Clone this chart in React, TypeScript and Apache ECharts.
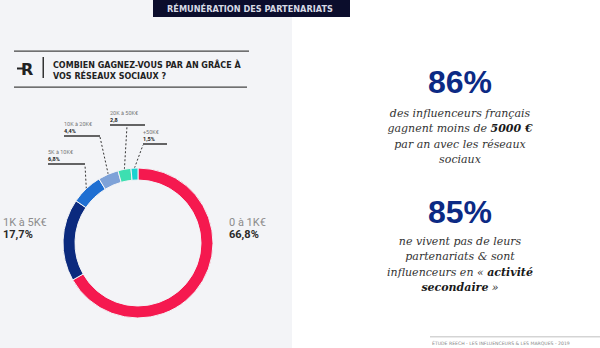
import React, { useEffect, useRef } from "react";
import * as echarts from "echarts";

const categories = ["0 à 1K€", "1K à 5K€", "5K à 10K€", "10K à 20K€", "20K à 50K€", "+50K€"];
const values = [66.8, 17.7, 6.8, 4.4, 2.8, 1.5];
const valueLabels = ["66,8%", "17,7%", "6,8%", "4,4%", "2,8", "1,5%"];
const colors = ["#f5194f", "#0b2a7e", "#1f6fd2", "#7ea2d8", "#3ddfb1", "#1ad3d1"];

// label layout (pixel positions of the callout labels)
const labelPos: { x: number; y: number; anchor?: number[] }[] = [
  { x: 229, y: 216 },
  { x: 3, y: 216 },
  { x: 48, y: 149, anchor: [85, 165] },
  { x: 64, y: 121, anchor: [100, 137] },
  { x: 110, y: 110, anchor: [127, 126] },
  { x: 143, y: 129, anchor: [143, 145] },
];
const underlineWidths = [0, 0, 37, 36, 35, 24];

export default function App() {
  const ref = useRef<HTMLDivElement>(null);
  useEffect(() => {
    if (!ref.current) return;
    const chart = echarts.init(ref.current, undefined, { renderer: "svg" });
    const rich: any = {
      n: { fontSize: 11, color: "#8c8c8c", fontFamily: "Roboto", lineHeight: 12 },
      v: { fontSize: 11, color: "#2a2a2a", fontFamily: "Roboto", fontWeight: "bold", lineHeight: 12 },
      sn: { fontSize: 5.5, color: "#777", fontFamily: "Roboto", lineHeight: 6.5 },
      sv: { fontSize: 5.5, color: "#222", fontFamily: "Roboto", fontWeight: "bold", lineHeight: 6.5 },
    };
    underlineWidths.forEach((w, i) => {
      if (w) rich["u" + i] = { width: w, height: 1.5, backgroundColor: "#333", lineHeight: 4, fontSize: 4 };
    });
    const serif = "'DejaVu Serif', 'Liberation Serif', serif";
    const paraRich = {
      i: { fontFamily: serif, fontStyle: "italic", fontWeight: "normal", fontSize: 11, color: "#333", lineHeight: 15.4 },
      b: { fontFamily: serif, fontStyle: "italic", fontWeight: "bold", fontSize: 11, color: "#1a1a1a", lineHeight: 15.4 },
    };
    const bigStyle = { fontFamily: "Liberation Sans", fontWeight: "bold", fontSize: 32, color: "#0c2a84", lineHeight: 32 };
    const paraBase = { fontFamily: serif, fontStyle: "italic", fontWeight: "normal", fontSize: 11, color: "#333", lineHeight: 15.4 };
    chart.setOption({
      animation: false,
      backgroundColor: "#ffffff",
      title: [
        { text: "86%", left: 460, top: 66, textAlign: "center", padding: 0, textStyle: bigStyle },
        {
          text: "{i|des influenceurs français}\n{i|gagnent moins de }{b|5000 €}\n{i|par an avec les réseaux}\n{i|sociaux}",
          left: 460, top: 105.5, textAlign: "center", padding: 0,
          textStyle: { ...paraBase, rich: paraRich },
        },
        { text: "85%", left: 460, top: 196, textAlign: "center", padding: 0, textStyle: bigStyle },
        {
          text: "{i|ne vivent pas de leurs}\n{i|partenariats & sont}\n{i|influenceurs en « }{b|activité}\n{b|secondaire}{i| »}",
          left: 460, top: 233.5, textAlign: "center", padding: 0,
          textStyle: { ...paraBase, rich: paraRich },
        },
      ],
      graphic: [
        { type: "rect", z: -10, shape: { x: 0, y: 0, width: 292, height: 348 }, style: { fill: "#f3f4f7" } },
        { type: "rect", shape: { x: 153, y: 0, width: 197, height: 17 }, style: { fill: "#0b0d2c" } },
        {
          type: "text", x: 250, y: 8.5,
          style: { text: "RÉMUNÉRATION DES PARTENARIATS", fill: "#d5d8e4", fontFamily: "DejaVu Sans", fontWeight: "bold", fontSize: 8.2, align: "center", verticalAlign: "middle" },
        },
        { type: "rect", shape: { x: 14, y: 50.5, width: 235, height: 1.2 }, style: { fill: "#444" } },
        { type: "rect", shape: { x: 14, y: 86.5, width: 233, height: 1.2 }, style: { fill: "#444" } },
        { type: "rect", shape: { x: 17, y: 67.5, width: 6, height: 2 }, style: { fill: "#222" } },
        {
          type: "text", x: 21, y: 69.5,
          style: { text: "R", fill: "#222", fontFamily: "DejaVu Sans", fontWeight: "bold", fontSize: 16, align: "left", verticalAlign: "middle" },
        },
        { type: "rect", shape: { x: 42.5, y: 57, width: 1.5, height: 21 }, style: { fill: "#333" } },
        {
          type: "text", x: 53, y: 59.5,
          style: {
            text: "COMBIEN GAGNEZ-VOUS PAR AN GRÂCE À\nVOS RÉSEAUX SOCIAUX ?",
            fill: "#222", fontFamily: "DejaVu Sans", fontWeight: "bold", fontSize: 8, lineHeight: 11, align: "left", verticalAlign: "top",
          },
        },
        { type: "rect", shape: { x: 430, y: 336.5, width: 170, height: 0.8 }, style: { fill: "#aaa" } },
        {
          type: "text", x: 432, y: 343,
          style: { text: "ÉTUDE REECH - LES INFLUENCEURS & LES MARQUES - 2019", fill: "#888", fontFamily: "DejaVu Sans", fontSize: 4.6, align: "left", verticalAlign: "middle" },
        },
      ],
      series: [
        {
          type: "pie",
          center: [138, 243],
          radius: [63, 75],
          startAngle: 90,
          clockwise: true,
          avoidLabelOverlap: false,
          itemStyle: { borderColor: "#f3f4f7", borderWidth: 1 },
          emphasis: { disabled: true },
          label: {
            show: true,
            position: "outside",
            formatter: (p: any) => {
              const i = p.dataIndex;
              if (i < 2) return `{n|${categories[i]}}\n{v|${valueLabels[i]}}`;
              return `{sn|${categories[i]}}\n{sv|${valueLabels[i]}}\n{u${i}| }`;
            },
            rich,
          },
          labelLine: { show: true, lineStyle: { type: [2, 2], color: "#333", width: 1 } },
          labelLayout: (p: any) => {
            const pos = labelPos[p.dataIndex];
            const res: any = { x: pos.x, y: pos.y, align: "left", verticalAlign: "top" };
            if (pos.anchor && p.labelLinePoints) {
              const s = p.labelLinePoints[0];
              res.labelLinePoints = [s, pos.anchor, pos.anchor];
            }
            return res;
          },
          data: categories.map((c, i) => ({
            name: c,
            value: values[i],
            itemStyle: { color: colors[i] },
            labelLine: { show: i >= 2 },
          })),
        },
      ],
    });
    return () => chart.dispose();
  }, []);
  return <div ref={ref} style={{ position: "absolute", left: 0, top: 0, width: 600, height: 348 }} />;
}
